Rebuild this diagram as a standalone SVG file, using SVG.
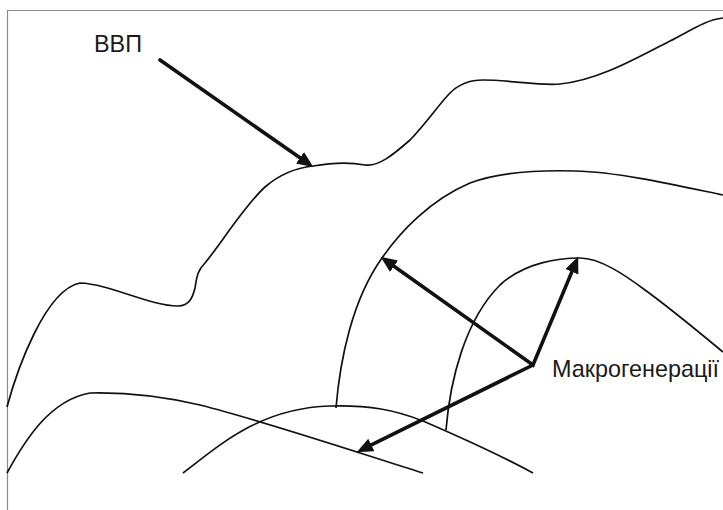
<svg xmlns="http://www.w3.org/2000/svg" width="723" height="510" viewBox="0 0 723 510">
<style>
.frame{fill:none;stroke:#8a8a8a;stroke-width:1.2}
.curve{fill:none;stroke:#111;stroke-width:1.7}
.arr{fill:none;stroke:#111;stroke-width:3.6;stroke-linecap:round;stroke-linejoin:miter}
.lbl{font-family:"Liberation Sans",Arial,sans-serif;font-size:23.4px;fill:#1a1a1a}
</style>
<defs>
<marker id="ah" markerUnits="userSpaceOnUse" markerWidth="19" markerHeight="15" refX="4" refY="7" orient="auto-start-reverse" viewBox="0 0 19 15">
<path d="M0,0 L16.5,7 L0,14 z" fill="#111"/>
</marker>
</defs>
<rect width="723" height="510" fill="#fff"/>
<path class="frame" d="M7.5,510 V10.5 H723"/>
<g id="curves">
<path id="vvp-curve" class="curve" d="M7,407 C17,370 45,290 80,283 C110,284 150,306 178,306 C190,306 193,296 195,288 C197,275 198,270 205,263 C220,245 245,205 265,187 C280,174 295,168 313,166 C330,163 350,162 365,165 C378,167 393,155 410,140 C425,125 440,103 450,93 C458,85 468,80 483,80 C510,80 540,86 560,84 C600,80 640,56 670,41 C690,31 705,20 723,18"/>
<path id="gen1" class="curve" d="M336,408 C340,360 352,300 382,258 C400,232 430,200 470,183 C500,172 540,170 575,171 C620,172 680,186 723,195"/>
<path id="gen2" class="curve" d="M446,430 C450,380 465,320 500,285 C525,262 560,258 580,258 C600,258 625,275 645,290 C670,308 700,333 723,352"/>
<path id="gen3" class="curve" d="M7,473 C25,440 50,400 90,393 C130,392 170,398 200,405 C260,420 350,450 423,473"/>
<path id="gen4" class="curve" d="M183,473 C220,445 260,408 330,406 C370,405 395,410 423,421 C460,437 500,455 533,473"/>
</g>
<g id="connectors">
<path class="arr" d="M160,60 L303.2,160.1" marker-end="url(#ah)"/>
<path class="arr" d="M390.8,264 L533,365 L573.4,268.1" marker-start="url(#ah)" marker-end="url(#ah)"/>
<path class="arr" d="M533,365 L367.8,446.7" marker-end="url(#ah)"/>
</g>
<g id="label-vvp"><text class="lbl" x="94" y="51.5">ВВП</text></g>
<g id="label-macro"><text class="lbl" x="552" y="377">Макрогенерації</text></g>
</svg>
